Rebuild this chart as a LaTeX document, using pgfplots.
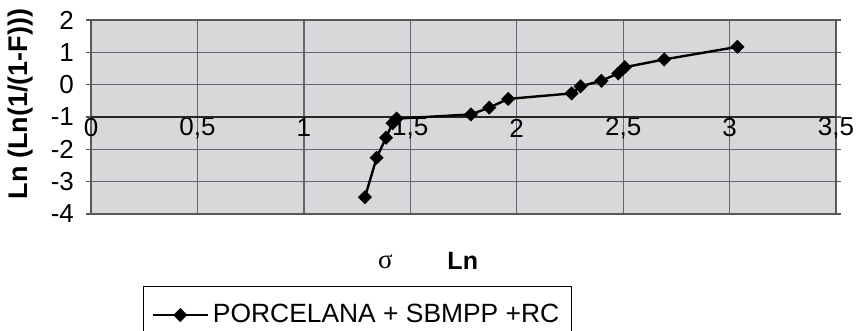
\documentclass[border=0pt]{standalone}
\usepackage{pgfplots}
\pgfplotsset{compat=1.18}
\usepackage{fontspec}
\setmainfont{Liberation Sans}
\newfontfamily\serifgreek{Liberation Serif}
\definecolor{plotbg}{RGB}{216,216,218}
\definecolor{gridc}{RGB}{105,100,115}
\begin{document}
\begin{tikzpicture}
\begin{axis}[
  scale only axis,
  width=372.5pt, height=97pt,
  xmin=0, xmax=3.5, ymin=-4, ymax=2,
  xtick={0,0.5,1,1.5,2,2.5,3,3.5},
  ytick={-4,-3,-2,-1,0,1,2},
  /pgf/number format/assume math mode=true,
  /pgf/number format/use comma,
  grid=major,
  major grid style={gridc, line width=0.65pt},
  axis line style={gray!70!black, line width=0.6pt},
  axis background/.style={fill=plotbg},
  tick align=outside,
  major tick length=2.5pt,
  xtick style={draw=none},
  ytick style={gray!70!black, line width=0.6pt},
  ticklabel style={font=\fontsize{13}{15}\selectfont},
  xticklabel style={anchor=center, yshift=45.5pt},
  yticklabel style={anchor=east, xshift=-2.5pt},
  every axis y label/.style={at={(axis description cs:-0.094,0.567)}, rotate=90, anchor=center},
  ylabel={\fontsize{13.5}{15}\selectfont\bfseries Ln (Ln(1/(1-F)))},
  every axis x label/.style={at={(axis description cs:0.499,-0.242)}, anchor=center},
  xlabel={\fontsize{12.5}{14}\selectfont\bfseries Ln},
  legend style={at={(axis description cs:0.0698,-0.37)}, anchor=north west,
    draw=black, line width=0.6pt, fill=white, inner xsep=4pt, inner ysep=7pt,
    font=\fontsize{13.2}{15}\selectfont},
  legend cell align=left,
  legend image code/.code={\draw[mark repeat=2,mark phase=2,#1] plot coordinates {(0pt,0pt) (13.75pt,0pt) (27.5pt,0pt)};},
  clip=false,
]
\draw[black!85, line width=0.8pt] (axis cs:0,-1) -- (axis cs:3.5,-1);
\addplot[black, line width=1.2pt, mark=square*, mark size=1.9pt,
  mark options={rotate=45, solid, fill=black}] coordinates {
  (1.287,-3.48) (1.342,-2.26) (1.386,-1.64) (1.417,-1.19) (1.436,-1.05)
  (1.785,-0.92) (1.871,-0.71) (1.960,-0.44)
  (2.258,-0.27) (2.300,-0.05) (2.398,0.12) (2.477,0.35) (2.508,0.54)
  (2.693,0.78) (3.037,1.17)
};
\addlegendentry{PORCELANA + SBMPP +RC}
\node[anchor=center, font=\fontsize{13.5}{15}\selectfont\serifgreek] at (axis description cs:0.395,-0.245) {σ};
\end{axis}
\pgfresetboundingbox
\useasboundingbox (-45.5pt,-58.5pt) rectangle (382.5pt,107pt);
\end{tikzpicture}
\end{document}
